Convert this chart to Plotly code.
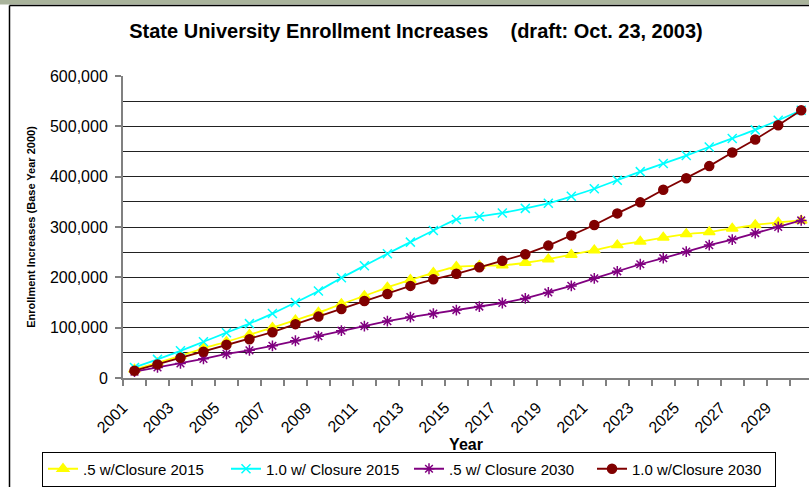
import plotly.graph_objects as go

years = list(range(2001, 2031))

half_closure_2015 = [17000, 30000, 44000, 59000, 72000, 86000, 100000, 115000, 130000, 147000,
                     163000, 180000, 195000, 209000, 221000, 223000, 224000, 229000, 236000, 245000,
                     254000, 264000, 271000, 279000, 286000, 290000, 297000, 304000, 309000, 313000]
one_closure_2015 = [21000, 37000, 54000, 72000, 90000, 108000, 128000, 150000, 173000, 199000,
                    223000, 247000, 270000, 293000, 315000, 321000, 328000, 337000, 347000, 361000,
                    376000, 393000, 410000, 426000, 442000, 459000, 476000, 493000, 512000, 532000]
half_closure_2030 = [12600, 21000, 29000, 38000, 48000, 55000, 64000, 74000, 83000, 94000,
                     103000, 113000, 121000, 128000, 135000, 142000, 149000, 158000, 170000, 183000,
                     198000, 212000, 226000, 238000, 251000, 264000, 275000, 288000, 300000, 313000]
one_closure_2030 = [14500, 27000, 40000, 52000, 66000, 77000, 91000, 107000, 122000, 137000,
                    153000, 167000, 183000, 196000, 207000, 220000, 233000, 246000, 263000, 283000,
                    304000, 327000, 349000, 374000, 397000, 421000, 448000, 474000, 502000, 532000]

series_names = [".5 w/Closure 2015", "1.0 w/ Closure 2015", ".5 w/ Closure 2030", "1.0 w/Closure 2030"]

y_tickvals = [0, 100000, 200000, 300000, 400000, 500000, 600000]
y_ticktext = ["0", "100,000", "200,000", "300,000", "400,000", "500,000", "600,000"]

title_text = "State University Enrollment Increases\u00a0\u00a0\u00a0\u00a0(draft: Oct. 23, 2003)"
y_title = "Enrollment Increases (Base Year 2000)"
x_title = "Year"

FONT = "Liberation Sans, Arial, sans-serif"

W, H = 809, 487
ML, MT, MB, MR = 123, 76, 109, 0
PW = W - ML - MR
PH = H - MT - MB
STEP = 22.99  # px per category

fig = go.Figure()

styles = [
    dict(color="#FFFF00", symbol="triangle-up", size=10, shape="spline"),
    dict(color="#00FFFF", symbol="x-thin", size=9, shape="spline"),
    dict(color="#800080", symbol="asterisk", size=9, shape="linear"),
    dict(color="#800000", symbol="circle", size=9, shape="linear"),
]
data = [half_closure_2015, one_closure_2015, half_closure_2030, one_closure_2030]

for name, vals, st in zip(series_names, data, styles):
    fig.add_trace(go.Scatter(
        x=years, y=vals, name=name, mode="lines+markers",
        line=dict(color=st["color"], width=1.8, shape=st["shape"], smoothing=0.5),
        marker=dict(symbol=st["symbol"], size=st["size"], color=st["color"],
                    line=dict(color=st["color"], width=1.5)),
    ))

x_tickvals = [y - 0.5 for y in years]
x_ticktext = [str(y) if (y - years[0]) % 2 == 0 else "" for y in years]

x_lo = years[0] - 0.5
x_hi = x_lo + PW / STEP


def px_x(p):
    return (p - ML) / PW


def px_y(p):
    return (H - MB - p) / PH


shapes = [
    dict(type="rect", xref="paper", yref="paper", x0=px_x(0), x1=px_x(W), y0=px_y(4.5), y1=px_y(0),
         fillcolor="#a9b39b", line=dict(width=0), layer="above"),
    dict(type="line", xref="paper", yref="paper", x0=px_x(9.5), x1=px_x(W), y0=px_y(5.5), y1=px_y(5.5),
         line=dict(color="#000000", width=1.5), layer="above"),
    dict(type="line", xref="paper", yref="paper", x0=px_x(9.5), x1=px_x(9.5), y0=px_y(5.5), y1=px_y(H),
         line=dict(color="#000000", width=1.5), layer="above"),
]

fig.update_layout(
    width=W, height=H,
    margin=dict(l=ML, r=MR, t=MT, b=MB),
    paper_bgcolor="white", plot_bgcolor="white",
    font=dict(family=FONT, color="black"),
    title=dict(text="<b>" + title_text + "</b>", xref="container", yref="container",
               x=416 / W, y=1 - 31 / H, xanchor="center", yanchor="middle",
               font=dict(size=20, family=FONT, color="black")),
    showlegend=True,
    legend=dict(orientation="h", xref="paper", yref="paper",
                x=px_x(42), xanchor="left", y=px_y(486.5), yanchor="bottom",
                bgcolor="white", bordercolor="black", borderwidth=1,
                font=dict(size=15, family=FONT, color="black"),
                tracegroupgap=0, itemwidth=30, entrywidth=138, entrywidthmode="pixels"),
    shapes=shapes,
    xaxis=dict(
        range=[x_lo, x_hi], tickmode="array", tickvals=x_tickvals, ticktext=x_ticktext,
        tickangle=-45, ticks="outside", ticklen=6, tickwidth=1.5, tickcolor="#808080",
        showline=True, linecolor="#808080", linewidth=2, showgrid=False, zeroline=False,
        tickfont=dict(size=16, family=FONT, color="black"), ticklabelstandoff=6,
        title=dict(text="<b>" + x_title + "</b>", font=dict(size=16, family=FONT, color="black"), standoff=2),
    ),
    yaxis=dict(
        range=[0, 600000], tickmode="array", tickvals=y_tickvals, ticktext=y_ticktext,
        ticks="outside", ticklen=6, tickwidth=1.5, tickcolor="#808080",
        showline=True, linecolor="#808080", linewidth=2,
        showgrid=True, gridcolor="#222222", gridwidth=1, zeroline=False,
        minor=dict(tickvals=[50000, 150000, 250000, 350000, 450000, 550000], showgrid=True,
                   gridcolor="#222222", gridwidth=1, ticks=""),
        tickfont=dict(size=16, family=FONT, color="black"), ticklabelstandoff=4,
        title=dict(text="<b>" + y_title + "</b>", font=dict(size=11, family=FONT, color="black"), standoff=12),
    ),
)

fig.write_html("out.html", config={"displayModeBar": False},
               post_script="document.body.style.margin='0px';document.body.style.overflow='hidden';")
